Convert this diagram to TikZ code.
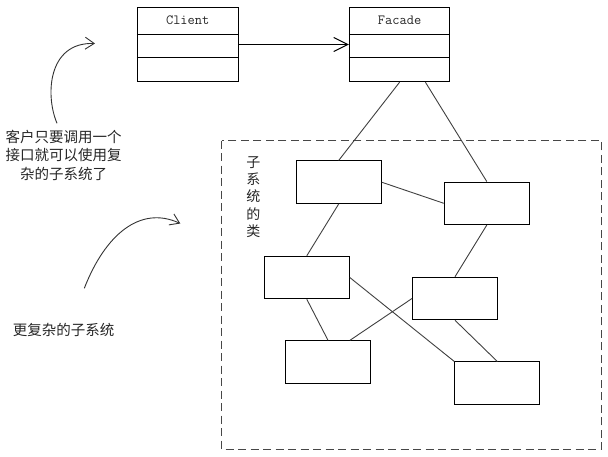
\documentclass[tikz,border=0pt]{standalone}
\usepackage{fontspec}
\newfontfamily\cjk{Noto Sans CJK SC}
\usetikzlibrary{arrows.meta}
\begin{document}
\begin{tikzpicture}[x=1pt,y=-1pt,
  classbox/.style={draw=black,line width=1pt,minimum width=100.6pt,minimum height=74.4pt,inner sep=0pt},
  subbox/.style={draw=black,line width=1pt,minimum width=85pt,minimum height=42.5pt,inner sep=0pt},
  link/.style={draw=black!75,line width=0.9pt},
  note/.style={font=\cjk\fontsize{14.5}{18.5}\selectfont,text=black!85,align=center,inner sep=0pt},
  title/.style={font=\ttfamily\fontsize{14}{16}\selectfont,text=black!85,inner sep=0pt}]
\useasboundingbox (0,0) rectangle (608,456);
% top classes
\node[classbox] (client) at (187.7,44.5) {};
\node[classbox] (facade) at (399.6,44.5) {};
\foreach \c in {client,facade}{
  \draw[line width=1pt] ([yshift=-27.4pt]\c.north west) -- ([yshift=-27.4pt]\c.north east);
  \draw[line width=1pt] ([yshift=-51pt]\c.north west) -- ([yshift=-51pt]\c.north east);
}
\node[title] (clientname) at ([yshift=-13.4pt]client.north) {Client};
\node[title] (facadename) at ([yshift=-13.4pt]facade.north) {Facade};
\draw[line width=1pt,-{Straight Barb[length=14pt,width=14pt]}] (client.east) -- (facade.west);
% subsystem frame
\draw[draw=black!72,line width=1.3pt,dash pattern=on 8pt off 4.5pt] (221.7,140.7) rectangle (601.7,449.3);
\node[note,font=\cjk\fontsize{14}{17.4}\selectfont] (frametitle) at (253.3,197) {子\\系\\统\\的\\类};
% subsystem classes
\node[subbox] (b1) at (338.7,182.2) {};
\node[subbox] (b2) at (486.8,203.3) {};
\node[subbox] (b3) at (306.8,277.5) {};
\node[subbox] (b4) at (455,298.5) {};
\node[subbox] (b5) at (328,362) {};
\node[subbox] (b6) at (497.3,383.2) {};
% links
\draw[link] (facade.south) -- (b1.north);
\draw[link] ([xshift=25.8pt]facade.south) -- (b2.north);
\draw[link] (b1.east) -- (b2.west);
\draw[link] (b1.south) -- (b3.north);
\draw[link] (b2.south) -- (b4.north);
\draw[link] (b3.east) -- (b6.north west);
\draw[link] (b3.south) -- (b5.north);
\draw[link] (b4.west) -- ([xshift=22pt]b5.north);
\draw[link] (b4.south) -- (b6.north);
% notes
\node[note] (note1) at (63.5,155) {客户只要调用一个\\接口就可以使用复\\杂的子系统了};
\node[note] (note2) at (63.5,330) {更复杂的子系统};
\coordinate (a1s) at (57,123.3);
\coordinate (a1e) at (95,43.5);
\coordinate (a2s) at (84.3,288.3);
\coordinate (a2e) at (180.3,223.5);
\draw[black!80,line width=0.9pt,-{Straight Barb[length=9pt,width=12pt]}] (a1s) .. controls (45,95) and (48,42) .. (a1e);
\draw[black!80,line width=0.9pt,-{Straight Barb[length=9pt,width=12pt]}] (a2s) .. controls (105,235) and (140,205) .. (a2e);
\end{tikzpicture}
\end{document}
